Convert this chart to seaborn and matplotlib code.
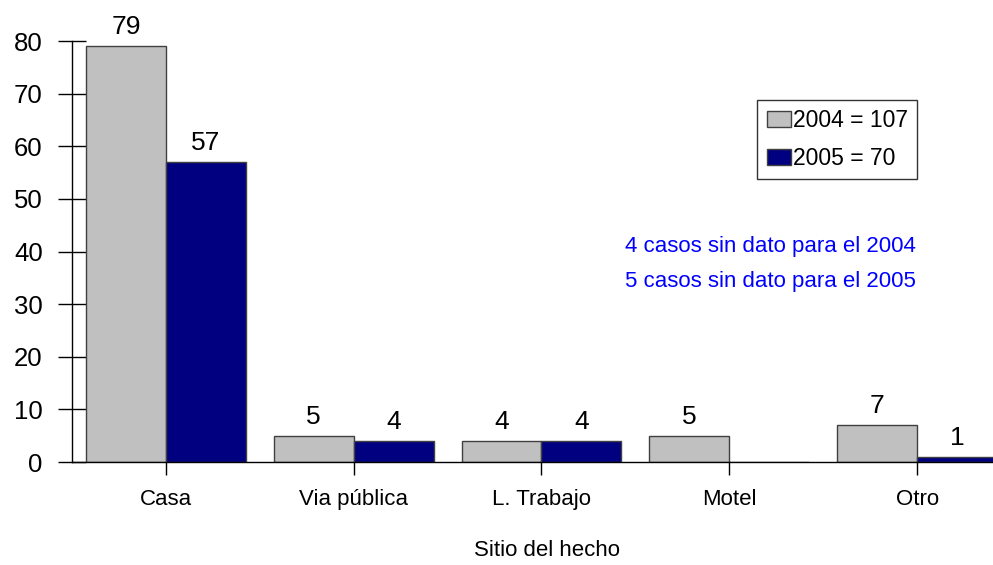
import pandas as pd
import matplotlib.pyplot as plt
import seaborn as sns

# Data
sitios = ['Casa', 'Via pública', 'L. Trabajo', 'Motel', 'Otro']
casos_2004 = [79, 5, 4, 5, 7]
casos_2005 = [57, 4, 4, 0, 1]
series = ['2004 = 107', '2005 = 70']

df = pd.DataFrame({
    'sitio': sitios * 2,
    'serie': [series[0]] * len(sitios) + [series[1]] * len(sitios),
    'casos': casos_2004 + casos_2005,
})

sns.set_theme(style='white', rc={'text.color': 'black', 'axes.labelcolor': 'black',
                                 'xtick.color': 'black', 'ytick.color': 'black'})
plt.rcParams['font.family'] = ['Liberation Sans', 'DejaVu Sans']
word_size = 16

fig = plt.figure(figsize=(9.93, 5.65), dpi=100)
# axes runs a bit past the right edge, as in the reference
ax = fig.add_axes([0.0725, 0.1823, 0.9456, 0.7451])

sns.barplot(data=df, x='sitio', y='casos', hue='serie', order=sitios,
            hue_order=series, palette=['#C0C0C0', '#000080'],
            width=0.851, gap=0, edgecolor='#404040', linewidth=1,
            saturation=1, ax=ax)

ax.set_xlim(-0.5, 4.5)
ax.set_ylim(0, 80)
ax.set_yticks(range(0, 81, 10))

for spine in ['top', 'right']:
    ax.spines[spine].set_visible(False)
for spine in ['left', 'bottom']:
    ax.spines[spine].set_color('black')
    ax.spines[spine].set_linewidth(1)

ax.tick_params(axis='y', direction='inout', length=20, width=1,
               labelsize=18.5, pad=11, left=True)
ax.tick_params(axis='x', direction='out', length=9.5, width=1,
               labelsize=word_size, pad=10, bottom=True)

ax.set_ylabel('')
ax.set_xlabel('')
fig.text(0.551, 0.0265, 'Sitio del hecho', ha='center', va='center',
         fontsize=word_size)

# value labels, skipping empty bars
for cont in ax.containers:
    labels = [f'{v:.0f}' if v > 0 else '' for v in cont.datavalues]
    ax.bar_label(cont, labels=labels, padding=5, fontsize=19)

leg = ax.legend(loc='upper right', bbox_to_anchor=(0.9235, 0.823),
                bbox_transform=fig.transFigure, borderaxespad=0,
                fontsize=16.5, frameon=True, fancybox=False,
                handlelength=1.05, handleheight=0.7, handletextpad=0.1,
                borderpad=0.4, labelspacing=0.65)
leg.get_frame().set_edgecolor('black')
leg.get_frame().set_linewidth(1)
for h in leg.legend_handles:
    h.set_edgecolor('#404040')

fig.text(0.922, 0.563, '4 casos sin dato para el 2004', color='#0000FF',
         ha='right', va='center', fontsize=word_size)
fig.text(0.922, 0.501, '5 casos sin dato para el 2005', color='#0000FF',
         ha='right', va='center', fontsize=word_size)

fig.savefig('out.png', dpi=100)
